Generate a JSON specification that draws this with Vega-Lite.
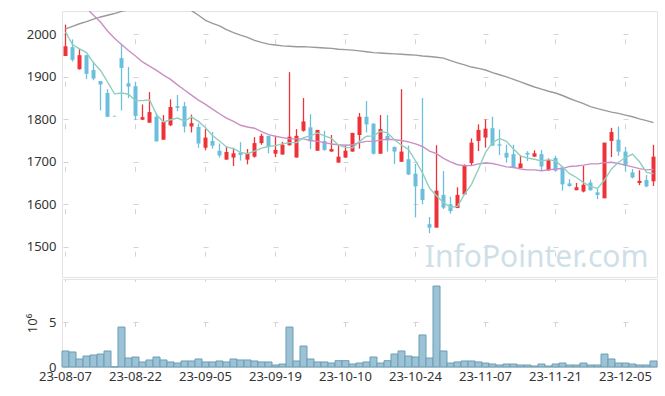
{
  "$schema": "https://vega.github.io/schema/vega-lite/v6.json",
  "background": "white",
  "padding": {"left": 5, "top": 10, "right": 5, "bottom": 5},
  "spacing": 0,
  "config": {
    "view": {"stroke": "#e3e3e3", "strokeWidth": 1},
    "font": "Noto Sans",
    "axis": {
      "labelFont": "Noto Sans",
      "labelFontSize": 13,
      "labelColor": "#333333",
      "titleFont": "Noto Sans",
      "titleFontSize": 13,
      "titleFontWeight": "normal",
      "titleColor": "#333333",
      "domain": false,
      "ticks": false,
      "gridColor": "#d4d4d4",
      "gridWidth": 1
    }
  },
  "datasets": {
    "d": [
      {"date":"23-08-07","o":1949,"h":2023,"l":1949,"c":1972,"v":1780000,"ma5":2006,"ma20":2105,"ma60":2013},
      {"date":"23-08-08","o":1970,"h":1988,"l":1936,"c":1940,"v":1670000,"ma5":1976,"ma20":2090,"ma60":2019},
      {"date":"23-08-09","o":1918,"h":1966,"l":1917,"c":1951,"v":890000,"ma5":1966,"ma20":2075,"ma60":2025},
      {"date":"23-08-10","o":1951,"h":1952,"l":1895,"c":1907,"v":1220000,"ma5":1957,"ma20":2062,"ma60":2030},
      {"date":"23-08-11","o":1916,"h":1936,"l":1892,"c":1896,"v":1330000,"ma5":1933,"ma20":2045,"ma60":2036},
      {"date":"23-08-14","o":1890,"h":1890,"l":1821,"c":1882,"v":1440000,"ma5":1915,"ma20":2029,"ma60":2041},
      {"date":"23-08-16","o":1862,"h":1871,"l":1805,"c":1806,"v":1780000,"ma5":1888,"ma20":2008,"ma60":2045},
      {"date":"23-08-17","o":1808,"h":1808.5,"l":1806,"c":1807,"v":20000,"ma5":1860,"ma20":1991,"ma60":2049},
      {"date":"23-08-18","o":1944,"h":1978,"l":1821,"c":1921,"v":4440000,"ma5":1862,"ma20":1976,"ma60":2054},
      {"date":"23-08-21","o":1885,"h":1923,"l":1850,"c":1877,"v":1000000,"ma5":1859,"ma20":1962,"ma60":2058},
      {"date":"23-08-22","o":1878,"h":1888,"l":1798,"c":1808,"v":1110000,"ma5":1844,"ma20":1949,"ma60":2062},
      {"date":"23-08-23","o":1799,"h":1835,"l":1798,"c":1805,"v":560000,"ma5":1844,"ma20":1935,"ma60":2066},
      {"date":"23-08-24","o":1792,"h":1864,"l":1792,"c":1817,"v":780000,"ma5":1846,"ma20":1925,"ma60":2070},
      {"date":"23-08-25","o":1806,"h":1815,"l":1748,"c":1748,"v":1110000,"ma5":1811,"ma20":1915,"ma60":2072},
      {"date":"23-08-28","o":1752,"h":1810,"l":1752,"c":1794,"v":780000,"ma5":1794,"ma20":1904,"ma60":2072},
      {"date":"23-08-29","o":1786,"h":1847,"l":1784,"c":1829,"v":560000,"ma5":1799,"ma20":1894,"ma60":2070},
      {"date":"23-08-30","o":1831,"h":1857,"l":1819,"c":1827,"v":440000,"ma5":1803,"ma20":1881,"ma60":2066},
      {"date":"23-08-31","o":1831,"h":1841,"l":1769,"c":1783,"v":670000,"ma5":1796,"ma20":1869,"ma60":2062},
      {"date":"23-09-01","o":1783,"h":1811,"l":1769,"c":1791,"v":670000,"ma5":1805,"ma20":1857,"ma60":2056},
      {"date":"23-09-04","o":1782,"h":1790,"l":1733,"c":1743,"v":890000,"ma5":1795,"ma20":1845,"ma60":2045},
      {"date":"23-09-05","o":1733,"h":1777,"l":1727,"c":1757,"v":560000,"ma5":1780,"ma20":1835,"ma60":2033},
      {"date":"23-09-06","o":1749,"h":1770,"l":1731,"c":1738,"v":560000,"ma5":1762,"ma20":1824,"ma60":2026},
      {"date":"23-09-07","o":1726,"h":1743,"l":1710,"c":1715,"v":670000,"ma5":1749,"ma20":1813,"ma60":2020},
      {"date":"23-09-08","o":1705,"h":1736,"l":1705,"c":1723,"v":560000,"ma5":1735,"ma20":1803,"ma60":2011},
      {"date":"23-09-11","o":1710,"h":1733,"l":1690,"c":1720,"v":890000,"ma5":1731,"ma20":1795,"ma60":2004},
      {"date":"23-09-12","o":1722,"h":1746,"l":1703,"c":1716,"v":780000,"ma5":1722,"ma20":1786,"ma60":1998},
      {"date":"23-09-13","o":1705,"h":1730,"l":1694,"c":1720,"v":780000,"ma5":1719,"ma20":1782,"ma60":1993},
      {"date":"23-09-14","o":1712,"h":1758,"l":1710,"c":1744,"v":670000,"ma5":1725,"ma20":1779,"ma60":1986},
      {"date":"23-09-15","o":1744,"h":1766,"l":1740,"c":1761,"v":560000,"ma5":1732,"ma20":1771,"ma60":1981},
      {"date":"23-09-18","o":1761,"h":1761,"l":1720,"c":1737,"v":560000,"ma5":1736,"ma20":1764,"ma60":1977},
      {"date":"23-09-19","o":1719,"h":1761,"l":1711,"c":1728,"v":220000,"ma5":1738,"ma20":1760,"ma60":1975},
      {"date":"23-09-20","o":1717,"h":1747,"l":1717,"c":1740,"v":330000,"ma5":1742,"ma20":1757,"ma60":1973},
      {"date":"23-09-21","o":1739,"h":1911,"l":1738,"c":1759,"v":4440000,"ma5":1745,"ma20":1754,"ma60":1972},
      {"date":"23-09-22","o":1710,"h":1777,"l":1710,"c":1761,"v":670000,"ma5":1745,"ma20":1754,"ma60":1971},
      {"date":"23-09-25","o":1773,"h":1850,"l":1771,"c":1795,"v":2330000,"ma5":1757,"ma20":1754,"ma60":1971},
      {"date":"23-09-26","o":1781,"h":1812,"l":1730,"c":1748,"v":890000,"ma5":1761,"ma20":1750,"ma60":1970},
      {"date":"23-09-27","o":1726,"h":1775,"l":1726,"c":1775,"v":560000,"ma5":1768,"ma20":1748,"ma60":1969},
      {"date":"23-10-04","o":1749,"h":1773,"l":1726,"c":1728,"v":560000,"ma5":1761,"ma20":1745,"ma60":1968},
      {"date":"23-10-05","o":1724,"h":1763,"l":1724,"c":1730,"v":440000,"ma5":1755,"ma20":1742,"ma60":1967},
      {"date":"23-10-06","o":1698,"h":1740,"l":1698,"c":1712,"v":700000,"ma5":1739,"ma20":1740,"ma60":1965},
      {"date":"23-10-10","o":1710,"h":1740,"l":1709,"c":1726,"v":700000,"ma5":1734,"ma20":1739,"ma60":1964},
      {"date":"23-10-11","o":1724,"h":1768,"l":1724,"c":1768,"v":330000,"ma5":1733,"ma20":1740,"ma60":1963},
      {"date":"23-10-12","o":1763,"h":1815,"l":1731,"c":1806,"v":440000,"ma5":1748,"ma20":1745,"ma60":1961},
      {"date":"23-10-13","o":1806,"h":1843,"l":1769,"c":1788,"v":560000,"ma5":1760,"ma20":1748,"ma60":1959},
      {"date":"23-10-16","o":1790,"h":1790,"l":1717,"c":1719,"v":1110000,"ma5":1761,"ma20":1748,"ma60":1957},
      {"date":"23-10-17","o":1719,"h":1810,"l":1719,"c":1777,"v":440000,"ma5":1772,"ma20":1751,"ma60":1956},
      {"date":"23-10-18","o":1761,"h":1810,"l":1724,"c":1751,"v":700000,"ma5":1768,"ma20":1753,"ma60":1955},
      {"date":"23-10-19","o":1735,"h":1736,"l":1695,"c":1724,"v":1440000,"ma5":1752,"ma20":1752,"ma60":1954},
      {"date":"23-10-20","o":1700,"h":1871,"l":1700,"c":1724,"v":1780000,"ma5":1739,"ma20":1750,"ma60":1953},
      {"date":"23-10-23","o":1706,"h":1738,"l":1669,"c":1670,"v":1220000,"ma5":1729,"ma20":1747,"ma60":1952},
      {"date":"23-10-24","o":1672,"h":1695,"l":1569,"c":1642,"v":1110000,"ma5":1702,"ma20":1742,"ma60":1951},
      {"date":"23-10-25","o":1636,"h":1850,"l":1600,"c":1610,"v":3560000,"ma5":1674,"ma20":1736,"ma60":1949},
      {"date":"23-10-26","o":1553,"h":1570,"l":1532,"c":1545,"v":1000000,"ma5":1638,"ma20":1725,"ma60":1948},
      {"date":"23-10-27","o":1545,"h":1739,"l":1545,"c":1632,"v":9000000,"ma5":1620,"ma20":1719,"ma60":1946},
      {"date":"23-10-30","o":1622,"h":1678,"l":1589,"c":1592,"v":1780000,"ma5":1604,"ma20":1708,"ma60":1944},
      {"date":"23-10-31","o":1600,"h":1618,"l":1578,"c":1584,"v":440000,"ma5":1593,"ma20":1700,"ma60":1938},
      {"date":"23-11-01","o":1591,"h":1640,"l":1591,"c":1622,"v":560000,"ma5":1595,"ma20":1693,"ma60":1933},
      {"date":"23-11-02","o":1623,"h":1694,"l":1623,"c":1690,"v":670000,"ma5":1624,"ma20":1691,"ma60":1928},
      {"date":"23-11-03","o":1697,"h":1755,"l":1691,"c":1745,"v":670000,"ma5":1647,"ma20":1691,"ma60":1923},
      {"date":"23-11-06","o":1749,"h":1788,"l":1725,"c":1775,"v":560000,"ma5":1683,"ma20":1695,"ma60":1920},
      {"date":"23-11-07","o":1757,"h":1800,"l":1733,"c":1778,"v":440000,"ma5":1722,"ma20":1697,"ma60":1916},
      {"date":"23-11-08","o":1779,"h":1806,"l":1738,"c":1738,"v":330000,"ma5":1745,"ma20":1696,"ma60":1910},
      {"date":"23-11-09","o":1741,"h":1776,"l":1716,"c":1738,"v":220000,"ma5":1755,"ma20":1692,"ma60":1905},
      {"date":"23-11-10","o":1721,"h":1740,"l":1698,"c":1710,"v":330000,"ma5":1748,"ma20":1688,"ma60":1900},
      {"date":"23-11-13","o":1718,"h":1740,"l":1684,"c":1686,"v":330000,"ma5":1730,"ma20":1687,"ma60":1894},
      {"date":"23-11-14","o":1685,"h":1715,"l":1685,"c":1696,"v":220000,"ma5":1714,"ma20":1683,"ma60":1888},
      {"date":"23-11-15","o":1721,"h":1725,"l":1702,"c":1717,"v":220000,"ma5":1709,"ma20":1681,"ma60":1882},
      {"date":"23-11-16","o":1712,"h":1727,"l":1712,"c":1720,"v":110000,"ma5":1706,"ma20":1681,"ma60":1876},
      {"date":"23-11-17","o":1718,"h":1728,"l":1679,"c":1689,"v":330000,"ma5":1702,"ma20":1679,"ma60":1871},
      {"date":"23-11-20","o":1680,"h":1708,"l":1679,"c":1704,"v":110000,"ma5":1705,"ma20":1681,"ma60":1866},
      {"date":"23-11-21","o":1709,"h":1714,"l":1677,"c":1679,"v":330000,"ma5":1702,"ma20":1683,"ma60":1862},
      {"date":"23-11-22","o":1687,"h":1687,"l":1632,"c":1647,"v":440000,"ma5":1688,"ma20":1684,"ma60":1856},
      {"date":"23-11-23","o":1649,"h":1659,"l":1641,"c":1643,"v":220000,"ma5":1672,"ma20":1689,"ma60":1849},
      {"date":"23-11-24","o":1633,"h":1650,"l":1633,"c":1640,"v":220000,"ma5":1663,"ma20":1690,"ma60":1843},
      {"date":"23-11-27","o":1630,"h":1690,"l":1628,"c":1646,"v":440000,"ma5":1651,"ma20":1692,"ma60":1837},
      {"date":"23-11-28","o":1651,"h":1658,"l":1632,"c":1633,"v":220000,"ma5":1642,"ma20":1695,"ma60":1830},
      {"date":"23-11-29","o":1628,"h":1636,"l":1612,"c":1622,"v":220000,"ma5":1637,"ma20":1695,"ma60":1825},
      {"date":"23-11-30","o":1614,"h":1745,"l":1614,"c":1745,"v":1440000,"ma5":1657,"ma20":1698,"ma60":1821},
      {"date":"23-12-01","o":1749,"h":1780,"l":1711,"c":1770,"v":890000,"ma5":1683,"ma20":1699,"ma60":1817},
      {"date":"23-12-04","o":1752,"h":1783,"l":1714,"c":1724,"v":440000,"ma5":1699,"ma20":1696,"ma60":1814},
      {"date":"23-12-05","o":1724,"h":1735,"l":1677,"c":1690,"v":440000,"ma5":1710,"ma20":1692,"ma60":1810},
      {"date":"23-12-06","o":1675,"h":1683,"l":1661,"c":1663,"v":330000,"ma5":1718,"ma20":1688,"ma60":1806},
      {"date":"23-12-07","o":1650,"h":1680,"l":1645,"c":1655,"v":220000,"ma5":1700,"ma20":1684,"ma60":1801},
      {"date":"23-12-08","o":1657,"h":1669,"l":1640,"c":1642,"v":220000,"ma5":1675,"ma20":1681,"ma60":1797},
      {"date":"23-12-11","o":1654,"h":1740,"l":1643,"c":1712,"v":670000,"ma5":1672,"ma20":1682,"ma60":1792}
    ]
  },
  "vconcat": [
    {
      "width": 595,
      "height": 266,
      "data": {"name": "d"},
      "encoding": {
        "x": {
          "field": "date",
          "type": "ordinal",
          "sort": null,
          "scale": {"paddingInner": 0, "paddingOuter": 0},
          "axis": {
            "title": null,
            "labels": false,
            "labelPadding": 0,
            "minExtent": 0,
            "maxExtent": 0,
            "values": ["23-08-07","23-08-22","23-09-05","23-09-19","23-10-10","23-10-24","23-11-07","23-11-21","23-12-05"],
            "grid": true,
            "gridDash": [5, 37.47],
            "gridDashOffset": 14.67
          }
        }
      },
      "layer": [
        {
          "mark": {"type": "rule", "strokeWidth": 1.3},
          "encoding": {
            "y": {
              "field": "l",
              "type": "quantitative",
              "scale": {"domain": [1428.7, 2055], "nice": false, "zero": false},
              "axis": {
                "title": null,
                "format": "d",
                "values": [1500, 1600, 1700, 1800, 1900, 2000],
                "labelPadding": 6,
                "minExtent": 56,
                "maxExtent": 56,
                "grid": true,
                "gridDash": [5, 65],
                "gridDashOffset": 69
              }
            },
            "y2": {"field": "h"},
            "color": {
              "condition": {"test": "datum.c > datum.o", "value": "#ee3338"},
              "value": "#6bbfdc"
            }
          }
        },
        {
          "mark": {"type": "bar", "size": 4},
          "encoding": {
            "y": {"field": "o", "type": "quantitative"},
            "y2": {"field": "c"},
            "color": {
              "condition": {"test": "datum.c > datum.o", "value": "#ee3338"},
              "value": "#6bbfdc"
            }
          }
        },
        {
          "mark": {"type": "line", "color": "#9a9a9a", "strokeWidth": 1.4, "clip": true},
          "encoding": {"y": {"field": "ma60", "type": "quantitative"}}
        },
        {
          "mark": {"type": "line", "color": "#c98fc6", "strokeWidth": 1.4, "clip": true},
          "encoding": {"y": {"field": "ma20", "type": "quantitative"}}
        },
        {
          "mark": {"type": "line", "color": "#8fcfc0", "strokeWidth": 1.4, "clip": true},
          "encoding": {"y": {"field": "ma5", "type": "quantitative"}}
        },
        {
          "data": {"values": [{"label": "InfoPointer.com", "date": "23-12-11"}]},
          "mark": {"type": "text", "font": "Noto Sans", "fontSize": 30, "color": "#cfdfe8", "align": "right", "baseline": "alphabetic", "dx": -5},
          "encoding": {
            "text": {"field": "label"},
            "y": {"datum": 1453, "type": "quantitative"}
          }
        }
      ]
    },
    {
      "width": 595,
      "height": 88,
      "data": {"name": "d"},
      "mark": {"type": "bar", "fill": "#9cc3d5", "stroke": "#6c9db5", "strokeWidth": 1},
      "encoding": {
        "x": {
          "field": "date",
          "type": "ordinal",
          "sort": null,
          "scale": {"paddingInner": 0, "paddingOuter": 0},
          "axis": {
            "title": null,
            "labelAngle": 0,
            "labelPadding": 3,
            "values": ["23-08-07","23-08-22","23-09-05","23-09-19","23-10-10","23-10-24","23-11-07","23-11-21","23-12-05"],
            "grid": true,
            "gridDash": [5, 40],
            "gridDashOffset": 2.5
          }
        },
        "y": {
          "field": "v",
          "type": "quantitative",
          "scale": {"domain": [0, 9780000], "nice": false},
          "axis": {
            "title": "10⁶",
            "titlePadding": 9,
            "values": [0, 5000000],
            "labelExpr": "datum.value / 1000000",
            "labelPadding": 6,
            "grid": true,
            "gridDash": [5, 65],
            "gridDashOffset": 69
          }
        }
      }
    }
  ]
}
